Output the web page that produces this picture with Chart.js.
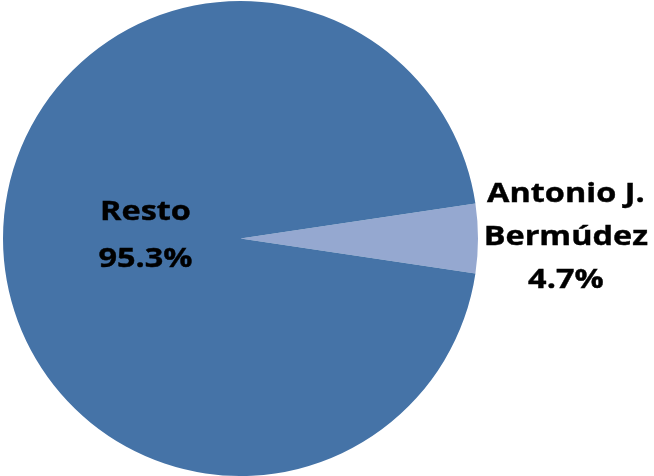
<!DOCTYPE html>
<html>
<head>
<meta charset="utf-8">
<script src="https://cdn.jsdelivr.net/npm/chart.js@4"></script>
<style>
  html, body { margin: 0; padding: 0; background: #fff; }
  #wrap { width: 654px; height: 476px; position: relative; }
</style>
</head>
<body>
<div id="wrap"><canvas id="pie"></canvas></div>
<script>
"use strict";

const labels = ["Antonio J.\nBermúdez", "Resto"];
const shares = [4.7, 95.3];
const colors = ["#95A8D0", "#4573A7"];

(() => {
  const fontFamily = "'Open Sans', 'DejaVu Sans', sans-serif";
  const fontSize = 27.5;
  const stretchX = 1.18; // wide bold lettering

  // label placement: fraction of radius along the slice's middle angle,
  // line spacing and a small vertical nudge
  const labelDist = [1.37, 0.40];
  const lineGap = [43, 47];
  const nudgeY = [-1, -3];

  // small slice centred on 3 o'clock
  const rotation = 90 - (shares[0] * 360) / 100 / 2;

  const sliceLabels = {
    id: "sliceLabels",
    afterDatasetsDraw(chart) {
      const ctx = chart.ctx;
      const meta = chart.getDatasetMeta(0);
      meta.data.forEach((arc, i) => {
        const mid = (arc.startAngle + arc.endAngle) / 2;
        const r = arc.outerRadius * labelDist[i];
        const x = arc.x + Math.cos(mid) * r;
        const y = arc.y + Math.sin(mid) * r + nudgeY[i];
        const lines = labels[i].split("\n").concat([shares[i].toFixed(1) + "%"]);
        const top = y - ((lines.length - 1) * lineGap[i]) / 2;
        ctx.save();
        ctx.translate(x, 0);
        ctx.scale(stretchX, 1);
        ctx.fillStyle = "#000";
        ctx.strokeStyle = "#000";
        ctx.lineWidth = 0.4;
        ctx.font = "bold " + fontSize + "px " + fontFamily;
        ctx.textAlign = "center";
        ctx.textBaseline = "middle";
        lines.forEach((t, k) => {
          ctx.fillText(t, 0, top + k * lineGap[i]);
          ctx.strokeText(t, 0, top + k * lineGap[i]);
        });
        ctx.restore();
      });
    },
  };

  new Chart(document.getElementById("pie"), {
    type: "pie",
    data: {
      labels: labels,
      datasets: [{
        data: shares,
        backgroundColor: colors,
        borderWidth: 0,
      }],
    },
    options: {
      responsive: true,
      maintainAspectRatio: false,
      animation: false,
      rotation: rotation,
      layout: { padding: { left: 3, right: 176, top: 1, bottom: 0 } },
      plugins: {
        legend: { display: false },
        tooltip: { enabled: false },
      },
    },
    plugins: [sliceLabels],
  });
})();
</script>
</body>
</html>
